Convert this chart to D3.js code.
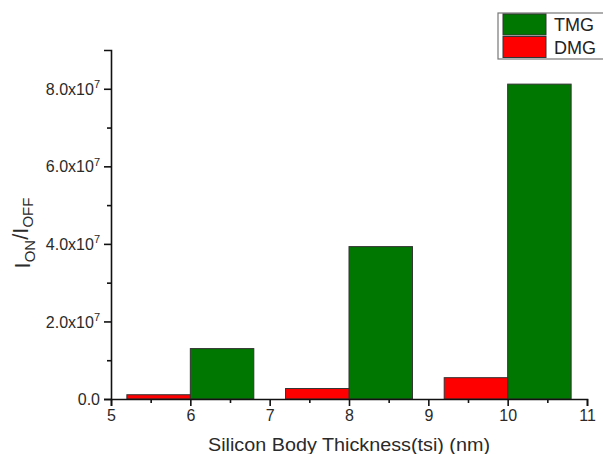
<!DOCTYPE html>
<html>
<head>
<meta charset="utf-8">
<script src="https://cdn.jsdelivr.net/npm/d3@7"></script>
<style>
  body { margin: 0; background: #fff; }
  text { font-family: "Liberation Sans", Arial, sans-serif; }
</style>
</head>
<body>
<div id="chart"></div>
<script>
const THICKNESS = [6, 8, 10];
const TMG = [1.30e7, 3.93e7, 8.12e7];
const DMG = [0.11e7, 0.27e7, 0.55e7];
const SERIES = [
    { name: "TMG", values: TMG, color: "#007700" },
    { name: "DMG", values: DMG, color: "#ff0000" }
];
const X_TICKS = [5, 6, 7, 8, 9, 10, 11];
const Y_TICKS = [0, 2e7, 4e7, 6e7, 8e7];

const W = 603, H = 454;
const MARGIN = { top: 50, right: 16, bottom: 55, left: 111 };
const BAR_W = 0.8;

const svg = d3.select("#chart").append("svg")
    .attr("width", W)
    .attr("height", H);

const g = svg.append("g")
    .attr("transform", `translate(${MARGIN.left},${MARGIN.top})`);

const width = W - MARGIN.left - MARGIN.right;
const height = H - MARGIN.top - MARGIN.bottom;

const x = d3.scaleLinear().domain([5, 11]).range([0, width]);
const y = d3.scaleLinear().domain([0, 9e7]).range([height, 0]);

// bars: DMG sits left of the tick, TMG right of it
const bars = g.append("g");
SERIES.forEach(s => {
    bars.selectAll(null)
        .data(THICKNESS.map((t, i) => ({ t, v: s.values[i] })))
        .join("rect")
        .attr("x", d => s.name == "DMG" ? x(d.t - BAR_W) : x(d.t))
        .attr("width", x(BAR_W) - x(0))
        .attr("y", d => y(d.v))
        .attr("height", d => height - y(d.v))
        .attr("fill", s.color)
        .attr("stroke", "#333")
        .attr("stroke-width", 1);
});

// x axis
const xAxis = g.append("g")
    .attr("transform", `translate(0,${height})`)
    .call(d3.axisBottom(x).tickValues(X_TICKS).tickSize(7).tickPadding(4)
        .tickFormat(d3.format("d")));
g.append("g")
    .attr("transform", `translate(0,${height})`)
    .call(d3.axisBottom(x).tickValues(d3.range(5.5, 11, 1)).tickSize(4).tickFormat(""))
    .call(a => a.select(".domain").remove());

// y axis
const yAxis = g.append("g")
    .call(d3.axisLeft(y).tickValues(Y_TICKS).tickSize(7).tickPadding(4).tickFormat(""));
g.append("g")
    .call(d3.axisLeft(y).tickValues([1e7, 3e7, 5e7, 7e7]).tickSize(4).tickFormat(""))
    .call(a => a.select(".domain").remove());

g.selectAll(".domain, .tick line").attr("stroke", "#111").attr("stroke-width", 1.6);

xAxis.selectAll(".tick text")
    .attr("font-size", 16)
    .attr("fill", "#2a2a2a");

yAxis.selectAll(".tick").each(function (d) {
    const t = d3.select(this).select("text")
        .attr("font-size", 16)
        .attr("fill", "#2a2a2a")
        .attr("x", -11)
        .attr("dy", "0.35em")
        .text(null);
    if (d == 0) {
        t.text("0.0");
    } else {
        t.append("tspan").text((d / 1e7).toFixed(1) + "x10");
        t.append("tspan").attr("font-size", 11).attr("dy", "-0.6em").text("7");
    }
});

// axis titles
const yTitle = svg.append("text")
    .attr("transform", `translate(30,233) rotate(-90)`)
    .attr("text-anchor", "middle")
    .attr("font-size", 22)
    .attr("fill", "#2a2a2a");
yTitle.append("tspan").text("I");
yTitle.append("tspan").attr("font-size", 15).attr("dy", "0.35em").text("ON");
yTitle.append("tspan").attr("dy", "-0.35em").text("/I");
yTitle.append("tspan").attr("font-size", 15).attr("dy", "0.35em").text("OFF");

svg.append("text")
    .attr("x", 349)
    .attr("y", 451)
    .attr("text-anchor", "middle")
    .attr("font-size", 18)
    .attr("textLength", 282)
    .attr("lengthAdjust", "spacingAndGlyphs")
    .attr("fill", "#2a2a2a")
    .text("Silicon Body Thickness(tsi) (nm)");

// legend
const legend = svg.append("g").attr("transform", "translate(498,13)");
legend.append("rect")
    .attr("width", 120).attr("height", 46)
    .attr("fill", "none").attr("stroke", "#777").attr("stroke-width", 1.2);
SERIES.forEach((s, i) => {
    legend.append("rect")
        .attr("x", 5).attr("y", 1 + i * 22.5)
        .attr("width", 43).attr("height", 21)
        .attr("fill", s.color).attr("stroke", "#333");
    legend.append("text")
        .attr("x", 56).attr("y", 18 + i * 22.5)
        .attr("font-size", 18)
        .attr("fill", "#222")
        .text(s.name);
});
</script>
</body>
</html>
